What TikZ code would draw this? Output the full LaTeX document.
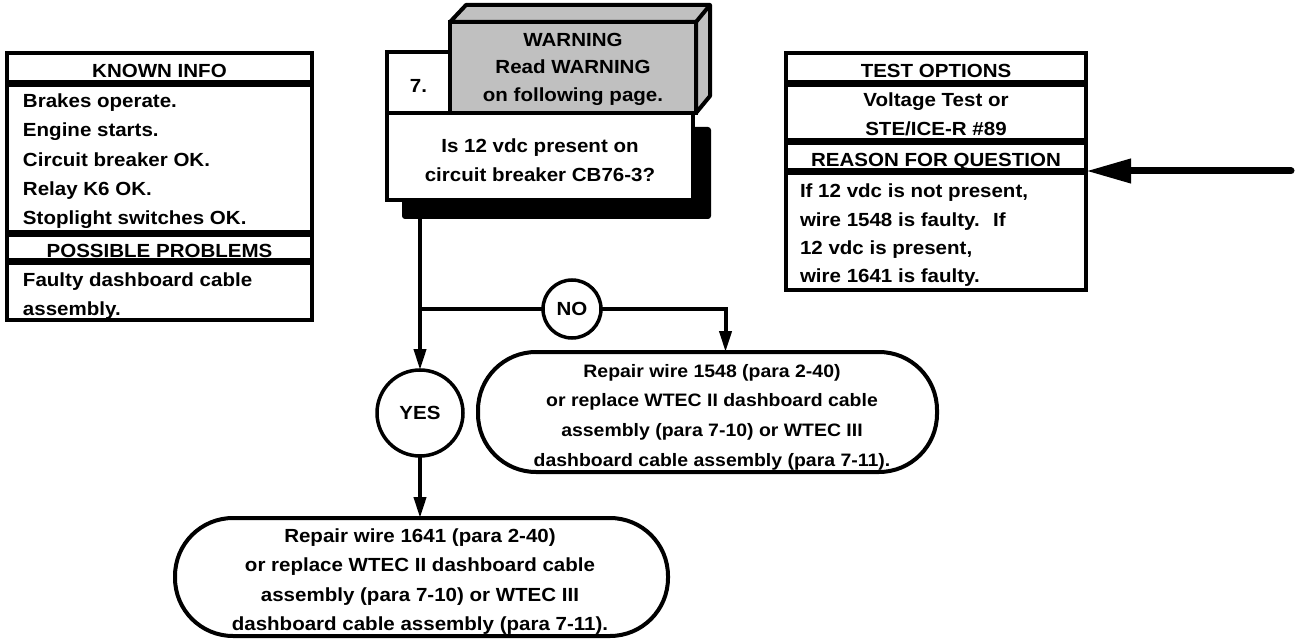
\documentclass[tikz,border=0pt]{standalone}
\usepackage{fontspec}
\newfontfamily\chartfont{Liberation Sans}[FakeStretch=1.08]
\usetikzlibrary{arrows.meta}
\definecolor{facegray}{RGB}{192,192,192}

\begin{document}
\begin{tikzpicture}[x=1pt,y=-1pt,
  every node/.style={font=\chartfont\bfseries\fontsize{19}{29.2}\selectfont, inner sep=0pt, outer sep=0pt},
  cell/.style={draw, line width=4pt, anchor=north west, fill=white},
  head/.style={cell, text height=19.5pt, text depth=0pt},
  note/.style={anchor=north west, align=left},
  endbox/.style={draw, line width=4pt, rounded corners=58pt, fill=white},
  answer/.style={draw, circle, line width=3.5pt, fill=white},
  flow/.style={line width=4pt},
  arr/.style={flow, -{Triangle[length=21pt,width=12pt]}}]
  \useasboundingbox (0,0) rectangle (1298,639);

  % known info column
  \node[head, minimum width=305pt, minimum height=29pt] (knowhead) at (7,53) {KNOWN INFO};
  \node[cell, minimum width=305pt, minimum height=147pt] (knowbody) at (7,85) {};
  \node[head, minimum width=305pt, minimum height=25pt] (probhead) at (7,235) {POSSIBLE PROBLEMS};
  \node[cell, minimum width=305pt, minimum height=57pt] (probbody) at (7,263) {};
  \node[note] (knowtext) at (23,94) {Brakes operate.\\Engine starts.\\Circuit breaker OK.\\Relay K6 OK.\\Stoplight switches OK.};
  \node[note] (probtext) at (23,273) {Faulty dashboard cable\\assembly.};

  % test options column
  \node[head, minimum width=300pt, minimum height=29pt] (testhead) at (786,53) {TEST OPTIONS};
  \node[cell, minimum width=300pt, minimum height=55pt] (testbody) at (786,85) {};
  \node[head, minimum width=300pt, minimum height=27pt] (rsnhead) at (786,143) {REASON FOR QUESTION};
  \node[cell, minimum width=300pt, minimum height=117pt] (rsnbody) at (786,173) {};
  \node[anchor=north, align=center] (testtext) at (936,93) {Voltage Test or\\STE/ICE-R \#89};
  \node[note, font=\chartfont\bfseries\fontsize{19}{28.4}\selectfont] (rsntext) at (800,184)
    {If 12 vdc is not present,\\wire 1548 is faulty.~ If\\12 vdc is present,\\wire 1641 is faulty.};
  \coordinate (pointer) at (1291,171);
  \draw[line width=7pt, line cap=round, -{Triangle[length=45pt,width=23pt]}] (pointer) -- (pointer -| rsnhead.east);

  % question block with warning
  \node[anchor=north west, fill=black, rounded corners=3pt, minimum width=309pt, minimum height=92pt] (shadow) at (402,127) {};
  \node[cell, fill=facegray, minimum width=246pt, minimum height=91pt] (warn) at (450,22) {};
  \draw[line width=4pt, line join=round, fill=facegray] (warn.north west) -- ([shift={(16,-17)}]warn.north west)
    -- ([shift={(14,-17)}]warn.north east) -- ([shift={(14,-17)}]warn.south east) -- (warn.south east)
    -- (warn.north east) -- cycle;
  \draw[line width=4pt, line join=round] (warn.north east) -- ([shift={(14,-17)}]warn.north east);
  \node[anchor=north, align=center, font=\chartfont\bfseries\fontsize{19}{27.5}\selectfont] (warntext) at (573,33)
    {WARNING\\Read WARNING\\on following page.};
  \node[head, minimum width=63pt, minimum height=61pt] (stepno) at (387,52) {7.};
  \node[cell, minimum width=306pt, minimum height=87pt] (question) at (387,113) {};
  \node[anchor=north, align=center] (qtext) at (540,139) {Is 12 vdc present on\\circuit breaker CB76-3?};

  % answers
  \node[answer, minimum size=58pt] (no) at (572,309) {NO};
  \node[answer, minimum size=86pt] (yes) at (420,413) {YES};
  \node[endbox, anchor=north west, minimum width=459pt, minimum height=120pt] (fixno) at (478,352) {};
  \node[anchor=north, align=center, font=\chartfont\bfseries\fontsize{18}{29.7}\selectfont] (fixnotext) at (712,364)
    {Repair wire 1548 (para 2-40)\\or replace WTEC II dashboard cable\\assembly (para 7-10) or WTEC III\\dashboard cable assembly (para 7-11).};
  \node[endbox, anchor=north west, minimum width=493pt, minimum height=118pt] (fixyes) at (175,518) {};
  \node[anchor=north, align=center] (fixyestext) at (420,529)
    {Repair wire 1641 (para 2-40)\\or replace WTEC II dashboard cable\\assembly (para 7-10) or WTEC III\\dashboard cable assembly (para 7-11).};

  % connectors
  \coordinate (split) at (420,309);
  \draw[arr] (shadow.south -| yes.north) -- (yes.north);
  \draw[flow] (split) -- (no);
  \draw[arr] (no) -| ([xshift=18pt]fixno.north);
  \draw[arr] (yes.south) -- (yes.south |- fixyes.north);
\end{tikzpicture}
\end{document}
